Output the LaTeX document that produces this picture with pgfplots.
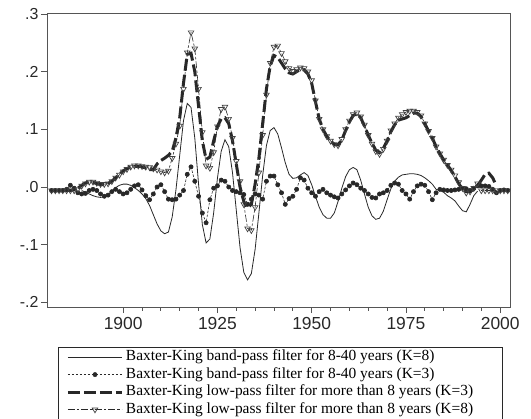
\documentclass[border=0pt]{standalone}
\usepackage{pgfplots}
\pgfplotsset{compat=1.18}
\usepackage{fontspec}
\setmainfont{Liberation Serif}
\newfontfamily\arial{Liberation Sans}

\pgfplotstableread{
year v
1889 -0.006
1890 -0.009
1891 -0.012
1892 -0.015
1893 -0.017
1894 -0.018
1895 -0.017
1896 -0.013
1897 -0.007
1898 -0.001
1899 0.003
1900 0.005
1901 0.005
1902 0.003
1903 -0.001
1904 -0.006
1905 -0.012
1906 -0.020
1907 -0.032
1908 -0.048
1909 -0.064
1910 -0.076
1911 -0.081
1912 -0.078
1913 -0.052
1914 -0.005
1915 0.055
1916 0.115
1917 0.145
1918 0.138
1919 0.085
1920 0.005
1921 -0.065
1922 -0.097
1923 -0.090
1924 -0.045
1925 0.015
1926 0.062
1927 0.082
1928 0.070
1929 0.025
1930 -0.040
1931 -0.105
1932 -0.148
1933 -0.161
1934 -0.150
1935 -0.108
1936 -0.045
1937 0.020
1938 0.072
1939 0.098
1940 0.103
1941 0.092
1942 0.068
1943 0.042
1944 0.022
1945 0.015
1946 0.016
1947 0.021
1948 0.025
1949 0.020
1950 0.004
1951 -0.016
1952 -0.035
1953 -0.048
1954 -0.054
1955 -0.054
1956 -0.045
1957 -0.025
1958 -0.002
1959 0.018
1960 0.030
1961 0.034
1962 0.030
1963 0.012
1964 -0.012
1965 -0.035
1966 -0.050
1967 -0.056
1968 -0.054
1969 -0.042
1970 -0.022
1971 -0.003
1972 0.010
1973 0.017
1974 0.021
1975 0.022
1976 0.023
1977 0.023
1978 0.022
1979 0.020
1980 0.016
1981 0.011
1982 0.005
1983 -0.004
1984 -0.006
1985 -0.009
1986 -0.015
1987 -0.019
1988 -0.024
1989 -0.033
1990 -0.041
1991 -0.043
1992 -0.030
1993 -0.015
1994 -0.007
}\bpeight

\pgfplotstableread{
year v
1881 -0.006
1882 -0.006
1883 -0.006
1884 -0.006
1885 -0.004
1886 0.003
1887 -0.002
1888 -0.010
1889 -0.012
1890 -0.011
1891 -0.006
1892 -0.004
1893 -0.006
1894 -0.012
1895 -0.016
1896 -0.014
1897 -0.008
1898 -0.004
1899 -0.008
1900 -0.012
1901 -0.010
1902 -0.004
1903 0.002
1904 0.004
1905 -0.005
1906 -0.015
1907 -0.022
1908 -0.012
1909 0.000
1910 0.004
1911 -0.008
1912 -0.021
1913 -0.022
1914 -0.021
1915 -0.014
1916 -0.006
1917 0.022
1918 0.035
1919 0.010
1920 -0.016
1921 -0.045
1922 -0.062
1923 -0.022
1924 -0.002
1925 0.002
1926 0.012
1927 0.010
1928 0.000
1929 -0.006
1930 -0.008
1931 -0.010
1932 -0.013
1933 -0.030
1934 -0.021
1935 -0.012
1936 -0.014
1937 -0.021
1938 0.010
1939 0.019
1940 0.019
1941 0.004
1942 -0.010
1943 -0.030
1944 -0.020
1945 -0.016
1946 -0.004
1947 0.016
1948 0.012
1949 -0.002
1950 -0.010
1951 -0.016
1952 -0.008
1953 -0.004
1954 -0.010
1955 -0.014
1956 -0.017
1957 -0.019
1958 -0.012
1959 -0.005
1960 0.002
1961 0.007
1962 0.004
1963 -0.002
1964 -0.006
1965 -0.012
1966 -0.018
1967 -0.019
1968 -0.012
1969 -0.010
1970 -0.006
1971 0.003
1972 0.007
1973 0.005
1974 -0.006
1975 -0.012
1976 -0.021
1977 -0.008
1978 0.002
1979 0.005
1980 0.003
1981 -0.008
1982 -0.022
1983 -0.010
1984 -0.004
1985 -0.005
1986 -0.006
1987 -0.006
1988 -0.005
1989 -0.004
1990 -0.002
1991 -0.003
1992 -0.006
1993 -0.002
1994 0.002
1995 0.002
1996 0.002
1997 0.001
1998 -0.004
1999 -0.010
2000 -0.006
2001 -0.005
2002 -0.006
}\bpthree

\pgfplotstableread{
year v
1884 -0.006
1885 -0.006
1886 -0.006
1887 -0.005
1888 -0.002
1889 0.003
1890 0.007
1891 0.009
1892 0.008
1893 0.006
1894 0.004
1895 0.004
1896 0.006
1897 0.010
1898 0.016
1899 0.022
1900 0.028
1901 0.032
1902 0.035
1903 0.036
1904 0.036
1905 0.035
1906 0.033
1907 0.030
1908 0.030
1909 0.040
1910 0.046
1911 0.050
1912 0.055
1913 0.062
1914 0.085
1915 0.120
1916 0.180
1917 0.230
1918 0.232
1919 0.200
1920 0.140
1921 0.080
1922 0.048
1923 0.052
1924 0.080
1925 0.105
1926 0.118
1927 0.120
1928 0.110
1929 0.080
1930 0.040
1931 0.000
1932 -0.025
1933 -0.036
1934 -0.030
1935 0.005
1936 0.050
1937 0.110
1938 0.170
1939 0.210
1940 0.228
1941 0.225
1942 0.215
1943 0.205
1944 0.198
1945 0.196
1946 0.200
1947 0.204
1948 0.203
1949 0.196
1950 0.180
1951 0.148
1952 0.118
1953 0.100
1954 0.088
1955 0.080
1956 0.074
1957 0.073
1958 0.082
1959 0.098
1960 0.113
1961 0.124
1962 0.127
1963 0.120
1964 0.106
1965 0.090
1966 0.076
1967 0.064
1968 0.060
1969 0.067
1970 0.080
1971 0.096
1972 0.108
1973 0.116
1974 0.118
1975 0.120
1976 0.124
1977 0.128
1978 0.128
1979 0.122
1980 0.110
1981 0.097
1982 0.085
1983 0.070
1984 0.058
1985 0.047
1986 0.038
1987 0.029
1988 0.018
1989 0.006
1990 -0.004
1991 -0.008
1992 -0.008
1993 -0.004
1994 0.002
1995 0.012
1996 0.022
1997 0.024
1998 0.016
1999 0.002
}\lpthree

\pgfplotstableread{
year v
1881 -0.006
1882 -0.006
1883 -0.006
1884 -0.006
1885 -0.006
1886 -0.006
1887 -0.006
1888 -0.004
1889 0.002
1890 0.006
1891 0.009
1892 0.009
1893 0.007
1894 0.005
1895 0.005
1896 0.006
1897 0.010
1898 0.016
1899 0.021
1900 0.027
1901 0.031
1902 0.035
1903 0.037
1904 0.037
1905 0.036
1906 0.035
1907 0.034
1908 0.032
1909 0.030
1910 0.027
1911 0.025
1912 0.028
1913 0.050
1914 0.075
1915 0.106
1916 0.170
1917 0.233
1918 0.268
1919 0.240
1920 0.170
1921 0.095
1922 0.037
1923 0.033
1924 0.060
1925 0.105
1926 0.135
1927 0.139
1928 0.118
1929 0.085
1930 0.045
1931 0.010
1932 -0.030
1933 -0.072
1934 -0.075
1935 -0.035
1936 0.025
1937 0.090
1938 0.160
1939 0.215
1940 0.243
1941 0.245
1942 0.232
1943 0.218
1944 0.206
1945 0.201
1946 0.204
1947 0.207
1948 0.206
1949 0.200
1950 0.185
1951 0.150
1952 0.118
1953 0.100
1954 0.088
1955 0.080
1956 0.074
1957 0.072
1958 0.083
1959 0.100
1960 0.115
1961 0.126
1962 0.129
1963 0.122
1964 0.108
1965 0.090
1966 0.075
1967 0.062
1968 0.057
1969 0.066
1970 0.080
1971 0.098
1972 0.110
1973 0.120
1974 0.126
1975 0.130
1976 0.132
1977 0.132
1978 0.130
1979 0.124
1980 0.110
1981 0.097
1982 0.085
1983 0.070
1984 0.058
1985 0.047
1986 0.038
1987 0.030
1988 0.020
1989 0.008
1990 -0.002
1991 -0.010
1992 -0.008
1993 -0.002
1994 0.006
1995 -0.006
1996 -0.006
1997 -0.006
1998 -0.006
1999 -0.006
2000 -0.006
2001 -0.006
2002 -0.006
}\lpeight

\begin{document}
\begin{tikzpicture}
\definecolor{framegray}{RGB}{85,85,85}
\definecolor{ink}{RGB}{40,40,40}
\definecolor{markgray}{RGB}{65,65,65}
\path[use as bounding box] (-47bp,-112bp) rectangle (484bp,307bp);
\begin{axis}[
  at={(0,0)}, anchor=south west,
  scale only axis, width=463bp, height=293bp,
  xmin=1879.8, xmax=2002.6, ymin=-0.208, ymax=0.3,
  axis line style={framegray, line width=1bp},
  tick align=outside, tick pos=left,
  major tick length=6bp, minor tick length=3.5bp,
  tick style={framegray, line width=0.8bp},
  xtick={1900,1925,1950,1975,2000},
  xticklabels={1900,1925,1950,1975,2000},
  minor x tick num=4,
  ytick={-0.2,-0.1,0,0.1,0.2,0.3},
  yticklabels={-.2,-.1,.0,.1,.2,.3},
  xticklabel style={font=\arial\fontsize{17.5}{18}\selectfont, color=ink, yshift=-1bp},
  yticklabel style={font=\arial\fontsize{16}{16}\selectfont, color=ink, xshift=1bp},
  clip=false,
  legend style={at={(0.5043,0)}, anchor=north, yshift=-40bp,
    draw=ink, line width=0.7bp,
    font=\fontsize{15.5}{17}\selectfont,
    inner xsep=8bp, inner ysep=1bp, row sep=0pt, column sep=2bp,
    nodes={inner sep=0.5bp, text height=12bp, text depth=4.5bp}},
  legend cell align=left,
  legend image code/.code={\draw[mark repeat=2, mark phase=2, #1] plot coordinates {(0bp,0bp) (27bp,0bp) (54bp,0bp)};},
]
\addplot[ink, line width=0.8bp] table[x=year, y=v] {\bpeight};
\addlegendentry{\makebox[368bp][l]{Baxter-King band-pass filter for 8-40 years (K=8)}}
\addplot[ink, line width=0.6bp, dash pattern=on 2.5bp off 1.5bp, mark=*, mark size=2.1bp, mark options={solid, fill=ink, draw=ink}] table[x=year, y=v] {\bpthree};
\addlegendentry{Baxter-King band-pass filter for 8-40 years (K=3)}
\addplot[ink, line width=3bp, dash pattern=on 12bp off 4bp] table[x=year, y=v] {\lpthree};
\addlegendentry{Baxter-King low-pass filter for more than 8 years (K=3)}
\addplot[ink, line width=0.6bp, dash pattern=on 7bp off 2bp on 2.5bp off 2bp, mark=triangle, mark size=3.2bp, mark options={solid, rotate=180, fill=white, draw=markgray, line width=0.7bp}] table[x=year, y=v] {\lpeight};
\addlegendentry{Baxter-King low-pass filter for more than 8 years (K=8)}
\end{axis}
\end{tikzpicture}
\end{document}
